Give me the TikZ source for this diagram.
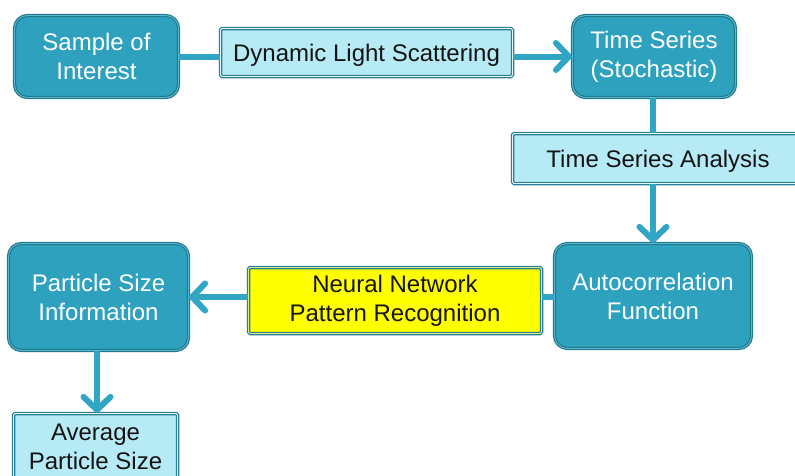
\documentclass[tikz,border=0pt]{standalone}
\usepackage{fontspec}
\setmainfont{Liberation Sans}
\usetikzlibrary{arrows.meta}
\definecolor{nodefill}{HTML}{2EA1BF}
\definecolor{nodedark}{HTML}{1F7A8E}
\definecolor{nodelight}{HTML}{5BB7CF}
\definecolor{labfill}{HTML}{B6EAF4}
\definecolor{labdark}{HTML}{2A8096}
\definecolor{labline}{HTML}{E6F8FC}
\definecolor{conn}{HTML}{31A6C4}
\definecolor{nnfill}{HTML}{FFFF00}
\definecolor{nnline}{HTML}{DCEB8C}
\tikzset{
  mainbox/.style={rounded corners=13pt, fill=nodefill, draw=nodedark, double=nodelight,
    line width=1.2pt, double distance=0.9pt, text=white, align=center, inner sep=0pt,
    font=\fontsize{24}{29}\selectfont},
  labbox/.style={rounded corners=1.5pt, fill=labfill, draw=labdark, double=labline,
    line width=1.3pt, double distance=0.9pt, text=black!92, align=center, inner sep=0pt,
    font=\fontsize{24}{29}\selectfont},
  oneline/.style={text depth=0pt},
  nnbox/.style={labbox, fill=nnfill, double=nnline},
  conline/.style={draw=conn, line width=6pt},
  conarrow/.style={conline, -{Straight Barb[length=13pt, width=27pt, round]}},
}
\begin{document}
\begin{tikzpicture}[x=1pt, y=-1pt]
\clip (0,0) rectangle (795,475);
\fill[white] (0,0) rectangle (795,475);
\node[mainbox, minimum width=164pt, minimum height=82pt] (S) at (96.5,56.5) {Sample of\\Interest};
\node[labbox, oneline, minimum width=292pt, minimum height=48pt] (DLS) at (366.5,52.5) {Dynamic Light Scattering};
\node[mainbox, minimum width=163pt, minimum height=82pt] (TS) at (654,56.5) {Time Series\\(Stochastic)};
\node[labbox, oneline, minimum width=291pt, minimum height=50pt] (TSA) at (658,158.5) {Time Series Analysis};
\node[mainbox, minimum width=197pt, minimum height=105pt] (AC) at (653,296) {Autocorrelation\\Function};
\node[nnbox, minimum width=293pt, minimum height=66pt] (NN) at (395,300.5) {Neural Network\\Pattern Recognition};
\node[mainbox, minimum width=180pt, minimum height=107pt] (P) at (98.5,297) {Particle Size\\Information};
\node[labbox, minimum width=164pt, minimum height=67pt] (AV) at (95.5,447) {Average\\Particle Size};
\draw[conline] (S.east) -- (DLS.west |- S.east);
\draw[conarrow] (DLS.east |- TS.west) -- (TS.west);
\draw[conline] (TS.south -| AC.north) -- (TSA.north -| AC.north);
\draw[conarrow] (TSA.south -| AC.north) -- (AC.north);
\draw[conline] (AC.west |- P.east) -- (NN.east |- P.east);
\draw[conarrow] (NN.west |- P.east) -- (P.east);
\draw[conarrow] (P.south -| 97,0) -- (AV.north -| 97,0);
\end{tikzpicture}
\end{document}
